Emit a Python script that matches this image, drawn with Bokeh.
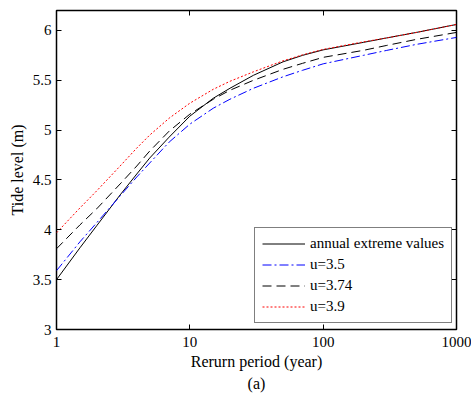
from bokeh.plotting import figure
from bokeh.models import (FixedTicker, LogAxis, LinearAxis, Legend, LegendItem,
                          NumeralTickFormatter, PrintfTickFormatter, Title)
from bokeh.embed import file_html
from bokeh.resources import INLINE

# Return period (years) and tide levels (m) for each fitted curve
return_period = [1, 1.5, 2, 3, 4, 5, 7, 10, 15, 20, 30, 50, 70, 100,
                 200, 300, 500, 1000]
annual_extreme = [3.50, 3.82, 4.04, 4.35, 4.56, 4.72, 4.93, 5.14, 5.32, 5.42,
                  5.55, 5.685, 5.75, 5.805, 5.88, 5.925, 5.98, 6.06]
u_3_5 = [3.59, 3.88, 4.07, 4.34, 4.53, 4.67, 4.88, 5.06, 5.22, 5.31,
         5.42, 5.535, 5.60, 5.665, 5.75, 5.80, 5.86, 5.93]
u_3_74 = [3.81, 4.05, 4.21, 4.46, 4.64, 4.79, 4.99, 5.16, 5.31, 5.40,
          5.50, 5.61, 5.67, 5.73, 5.80, 5.85, 5.91, 5.98]
u_3_9 = [3.97, 4.22, 4.39, 4.64, 4.82, 4.95, 5.12, 5.27, 5.41, 5.49,
         5.585, 5.695, 5.755, 5.81, 5.885, 5.925, 5.98, 6.06]

x_ticks = [1, 10, 100, 1000]
y_ticks = [3, 3.5, 4, 4.5, 5, 5.5, 6]
legend_labels = ["annual extreme values", "u=3.5", "u=3.74", "u=3.9"]

FONT = "Liberation Serif"
TICK_FS = "15px"
LABEL_FS = "16px"
LEGEND_FS = "15px"

p = figure(width=471, height=396, x_axis_type="log",
           x_range=(1, 1000), y_range=(3, 6.2),
           output_backend="svg", toolbar_location=None,
           min_border_left=56, min_border_right=15,
           min_border_top=10, min_border_bottom=67)
p.background_fill_color = "white"
p.border_fill_color = "white"
p.outline_line_color = "black"
p.outline_line_width = 1.5
p.grid.visible = False

r1 = p.line(return_period, annual_extreme, line_color="black", line_width=1)
r2 = p.line(return_period, u_3_5, line_color="blue", line_width=1,
            line_dash="9 3 2 3")
r3 = p.line(return_period, u_3_74, line_color="black", line_width=1,
            line_dash="9 5")
r4 = p.line(return_period, u_3_9, line_color="red", line_width=1,
            line_dash="2 2")


def style_axis(ax, ticks):
    ax.ticker = FixedTicker(ticks=ticks)
    ax.major_tick_in = 5
    ax.major_tick_out = 0
    ax.minor_tick_in = 0
    ax.minor_tick_out = 0
    ax.axis_line_color = None
    ax.major_tick_line_color = "black"
    ax.major_tick_line_width = 1
    ax.major_label_text_font = FONT
    ax.major_label_text_font_size = TICK_FS
    ax.major_label_text_color = "black"
    ax.axis_label_text_font = FONT
    ax.axis_label_text_font_size = LABEL_FS
    ax.axis_label_text_font_style = "normal"
    ax.axis_label_text_color = "black"


xa = p.xaxis[0]
style_axis(xa, x_ticks)
xa.formatter = PrintfTickFormatter(format="%d")
xa.major_label_standoff = 7
xa.axis_label = "Rerurn period (year)"
xa.axis_label_standoff = 3

ya = p.yaxis[0]
style_axis(ya, y_ticks)
ya.formatter = NumeralTickFormatter(format="0.[0]")
ya.major_label_standoff = 5
ya.axis_label = "Tide level (m)"
ya.axis_label_standoff = 4

# Tick marks only on the top and right edges of the box
top = LogAxis()
style_axis(top, x_ticks)
top.major_label_text_font_size = "1px"
top.major_label_text_alpha = 0
top.major_label_standoff = 0
p.add_layout(top, "above")

right = LinearAxis()
style_axis(right, y_ticks)
right.major_label_text_font_size = "1px"
right.major_label_text_alpha = 0
right.major_label_standoff = 0
p.add_layout(right, "right")

caption = Title(text="(a)", align="center", text_font=FONT,
                text_font_size=LABEL_FS, text_font_style="normal",
                text_color="black", standoff=1)
p.add_layout(caption, "below")

legend = Legend(items=[LegendItem(label=legend_labels[0], renderers=[r1]),
                       LegendItem(label=legend_labels[1], renderers=[r2]),
                       LegendItem(label=legend_labels[2], renderers=[r3]),
                       LegendItem(label=legend_labels[3], renderers=[r4])],
                location=(198, 6), margin=0, padding=7, spacing=4,
                glyph_width=43, glyph_height=17, label_height=17,
                label_standoff=5, label_text_font=FONT,
                label_text_font_size=LEGEND_FS, label_text_color="black",
                border_line_color="black", border_line_width=1.5,
                background_fill_color="white", background_fill_alpha=1)
p.add_layout(legend, "center")

open("out.html", "w").write(file_html(p, INLINE))
